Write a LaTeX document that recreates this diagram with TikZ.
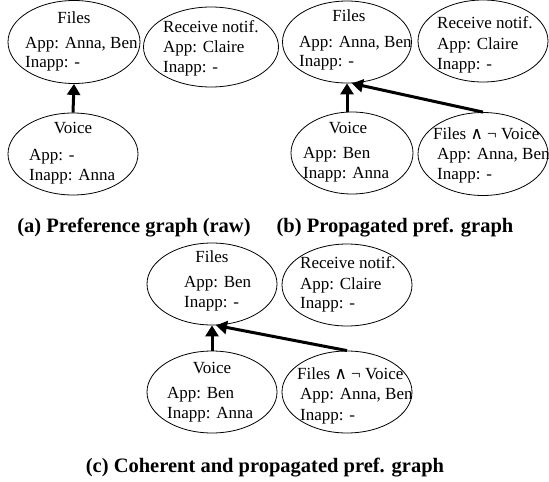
\documentclass[tikz,border=0pt]{standalone}
\usepackage{fontspec}
\setmainfont{Liberation Serif}
\newfontfamily\symfont{DejaVu Serif}
\usetikzlibrary{shapes.geometric,arrows.meta}
\tikzset{
  bubble/.style={draw, ellipse, line width=0.8pt, inner sep=0pt},
  ln/.style={anchor=mid west, inner sep=0pt, yshift=-4pt, font=\fontsize{17}{17}\selectfont},
  ttl/.style={anchor=mid, inner sep=0pt, yshift=-4pt, font=\fontsize{17}{17}\selectfont},
  subcap/.style={anchor=mid, inner sep=0pt, yshift=-6pt, font=\fontsize{20.5}{20.5}\selectfont\bfseries},
  pref/.style={line width=3pt, -{Triangle[length=11pt,width=13pt]}}
}
\begin{document}
\begin{tikzpicture}[x=1pt,y=-1pt]
\useasboundingbox (0,0) rectangle (549,482);
% ---------- (a)
\node[bubble, minimum width=132pt, minimum height=83pt] (afiles) at (74,42) {};
\node[ttl] (afiles-t) at (74,17) {Files};
\node[ln] (afiles-a) at (25,42) {App: Anna, Ben};
\node[ln] (afiles-i) at (25,61) {Inapp: -};
\node[bubble, minimum width=135pt, minimum height=80pt] (arecv) at (211,47) {};
\node[ln] (arecv-t) at (163,26) {Receive notif.};
\node[ln] (arecv-a) at (163,46) {App: Claire};
\node[ln] (arecv-i) at (163,66) {Inapp: -};
\node[bubble, minimum width=130pt, minimum height=82pt] (avoice) at (73,154) {};
\node[ttl] (avoice-t) at (73,127) {Voice};
\node[ln] (avoice-a) at (29,154) {App: -};
\node[ln] (avoice-i) at (29,174) {Inapp: Anna};
\draw[pref] (avoice.north) -- (afiles.south);
\node[subcap] (capa) at (134,224) {(a) Preference graph (raw)};
% ---------- (b)
\node[bubble, minimum width=129pt, minimum height=82pt] (bfiles) at (347,42) {};
\node[ttl] (bfiles-t) at (349,15) {Files};
\node[ln] (bfiles-a) at (299,41) {App: Anna, Ben};
\node[ln] (bfiles-i) at (299,60) {Inapp: -};
\node[bubble, minimum width=130pt, minimum height=82pt] (brecv) at (483,41) {};
\node[ln] (brecv-t) at (437,22) {Receive notif.};
\node[ln] (brecv-a) at (437,43) {App: Claire};
\node[ln] (brecv-i) at (437,63) {Inapp: -};
\node[bubble, minimum width=122pt, minimum height=82pt] (bvoice) at (352,153) {};
\node[ttl] (bvoice-t) at (348,127) {Voice};
\node[ln] (bvoice-a) at (303,152) {App: Ben};
\node[ln] (bvoice-i) at (303,172) {Inapp: Anna};
\node[bubble, minimum width=130pt, minimum height=83pt] (bfnv) at (483,154) {};
\node[ln] (bfnv-t) at (433,133) {Files {\symfont ∧} ¬ Voice};
\node[ln] (bfnv-a) at (437,153) {App: Anna, Ben};
\node[ln] (bfnv-i) at (437,173) {Inapp: -};
\draw[pref] (bvoice.north -| bfiles.south) -- (bfiles.south);
\draw[pref] (bfnv.north) -- ([xshift=5pt]bfiles.south);
\node[subcap] (capb) at (395,224) {(b) Propagated pref. graph};
% ---------- (c)
\node[bubble, minimum width=130pt, minimum height=82pt] (cfiles) at (212,284) {};
\node[ttl] (cfiles-t) at (212,256) {Files};
\node[ln] (cfiles-a) at (184,281) {App: Ben};
\node[ln] (cfiles-i) at (184,301) {Inapp: -};
\node[bubble, minimum width=130pt, minimum height=82pt] (crecv) at (347,285) {};
\node[ln] (crecv-t) at (300,262) {Receive notif.};
\node[ln] (crecv-a) at (300,283) {App: Claire};
\node[ln] (crecv-i) at (300,302) {Inapp: -};
\node[bubble, minimum width=130pt, minimum height=82pt] (cvoice) at (212,392) {};
\node[ttl] (cvoice-t) at (212,367) {Voice};
\node[ln] (cvoice-a) at (167,392) {App: Ben};
\node[ln] (cvoice-i) at (167,412) {Inapp: Anna};
\node[bubble, minimum width=130pt, minimum height=82pt] (cfnv) at (347,392) {};
\node[ln] (cfnv-t) at (297,373) {Files {\symfont ∧} ¬ Voice};
\node[ln] (cfnv-a) at (300,393) {App: Anna, Ben};
\node[ln] (cfnv-i) at (300,414) {Inapp: -};
\draw[pref] (cvoice.north) -- (cfiles.south);
\draw[pref] (cfnv.north) -- ([xshift=4pt]cfiles.south);
\node[subcap] (capc) at (265,464) {(c) Coherent and propagated pref. graph};
\end{tikzpicture}
\end{document}
